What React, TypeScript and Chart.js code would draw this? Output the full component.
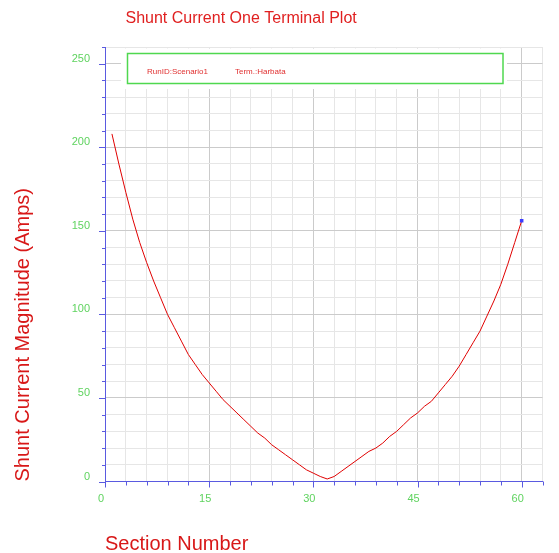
import { useEffect, useRef } from 'react';
import { Chart, registerables } from 'chart.js';

Chart.register(...registerables);

// ---- data ----
const sectionNumbers = [
  1, 2, 3, 4, 5, 6, 7, 8, 9, 10, 11, 12, 13, 14, 15, 16, 17, 18, 19, 20,
  21, 22, 23, 24, 25, 26, 27, 28, 29, 30, 31, 32, 33, 34, 35, 36, 37, 38, 39, 40,
  41, 42, 43, 44, 45, 46, 47, 48, 49, 50, 51, 52, 53, 54, 55, 56, 57, 58, 59, 60,
];
const shuntCurrentAmps = [
  208, 190, 173, 157, 143, 131, 120, 110, 100, 92, 84, 76, 70, 64, 59, 54, 49, 45, 41, 37,
  33, 29, 26, 22, 19, 16, 13, 10, 7, 5, 3, 1.5, 3, 6, 9, 12, 15, 18, 20, 23,
  27, 30, 34, 38, 41, 45, 48, 53, 58, 63, 69, 76, 83, 90, 99, 108, 118, 130, 143, 156,
];
const xLabelValues = [0, 15, 30, 45, 60];
const yLabelValues = [0, 50, 100, 150, 200, 250];
const legendTexts = ['RunID:Scenario1', 'Term.:Harbata'];
const chartTitle = 'Shunt Current One Terminal Plot';
const xAxisTitle = 'Section Number';
const yAxisTitle = 'Shunt Current Magnitude (Amps)';

const FONT = 'Arial, "Liberation Sans", sans-serif';
const AXIS_BLUE = '#5a5ae0';
const TICK_GREEN = '#5fd35f';

const decorPlugin = {
  id: 'decor',
  beforeDatasetsDraw(chart: any) {
    const { ctx } = chart;
    ctx.save();
    // white panel behind legend
    ctx.fillStyle = '#ffffff';
    ctx.fillRect(121, 48.5, 386, 40.5);
    // legend frame
    ctx.strokeStyle = '#4fd84f';
    ctx.lineWidth = 1.5;
    ctx.strokeRect(127.5, 53.5, 375.5, 30);
    ctx.fillStyle = '#e03030';
    ctx.font = `8px ${FONT}`;
    ctx.textBaseline = 'alphabetic';
    ctx.textAlign = 'left';
    ctx.fillText(legendTexts[0], 147, 73.5);
    ctx.fillText(legendTexts[1], 235, 73.5);
    ctx.restore();
  },
  afterDraw(chart: any) {
    const { ctx, chartArea } = chart;
    const xs = chart.scales.x;
    const ys = chart.scales.y;
    ctx.save();
    ctx.strokeStyle = AXIS_BLUE;
    ctx.lineWidth = 1;
    ctx.beginPath();
    xs.ticks.forEach((t: any) => {
      const px = Math.round(xs.getPixelForValue(t.value)) + 0.5;
      const len = t.value % 15 === 0 ? 6 : 4;
      ctx.moveTo(px, chartArea.bottom);
      ctx.lineTo(px, chartArea.bottom + len);
    });
    ys.ticks.forEach((t: any) => {
      const py = Math.round(ys.getPixelForValue(t.value)) + 0.5;
      const len = t.value % 50 === 0 ? 6 : 3;
      ctx.moveTo(chartArea.left, py);
      ctx.lineTo(chartArea.left - len, py);
    });
    ctx.stroke();
    // title
    ctx.fillStyle = '#e02020';
    ctx.font = `16px ${FONT}`;
    ctx.textAlign = 'left';
    ctx.textBaseline = 'alphabetic';
    ctx.fillText(chartTitle, 125.5, 22.5);
    ctx.restore();
  },
};

export default function App() {
  const canvasRef = useRef<HTMLCanvasElement | null>(null);

  useEffect(() => {
    if (!canvasRef.current) return;
    const points = sectionNumbers.map((x, i) => ({ x, y: shuntCurrentAmps[i] }));
    const lastIdx = points.length - 1;
    const chart = new Chart(canvasRef.current, {
      type: 'line',
      data: {
        datasets: [
          {
            label: 'Shunt Current',
            data: points,
            borderColor: '#e00000',
            borderWidth: 1,
            tension: 0,
            fill: false,
            pointStyle: 'rect',
            pointRadius: (c: any) => (c.dataIndex === lastIdx ? 2.5 : 0),
            pointBackgroundColor: '#3c3cff',
            pointBorderColor: '#3c3cff',
            pointBorderWidth: 0,
          },
        ],
      },
      options: {
        animation: false,
        responsive: true,
        maintainAspectRatio: false,
        layout: { padding: { left: 0, top: 47, right: 16.5, bottom: 0 } },
        plugins: {
          legend: { display: false },
          title: { display: false },
          tooltip: { enabled: false },
        },
        scales: {
          x: {
            type: 'linear',
            min: 0,
            max: 63,
            afterFit: (s: any) => {
              s.height = 71.5;
            },
            ticks: {
              stepSize: 3,
              autoSkip: false,
              maxRotation: 0,
              color: TICK_GREEN,
              font: { family: FONT, size: 11 },
              padding: 11,
              labelOffset: -4,
              callback: (v: any) => (xLabelValues.includes(Number(v)) ? String(v) : ''),
            },
            grid: {
              drawTicks: false,
              lineWidth: 1,
              color: (c: any) => (c.tick && c.tick.value % 15 === 0 ? '#cbcbcb' : '#e6e6e6'),
            },
            border: { color: AXIS_BLUE, width: 1 },
            title: {
              display: true,
              text: xAxisTitle,
              align: 'start',
              color: '#d81818',
              font: { family: FONT, size: 20, lineHeight: 1 },
              padding: { top: 0, bottom: -1 },
            },
          },
          y: {
            type: 'linear',
            min: 0,
            max: 260,
            afterFit: (s: any) => {
              s.width = 105;
            },
            ticks: {
              stepSize: 10,
              autoSkip: false,
              color: TICK_GREEN,
              font: { family: FONT, size: 11 },
              padding: 15,
              labelOffset: -5,
              callback: (v: any) => (yLabelValues.includes(Number(v)) ? String(v) : ''),
            },
            grid: {
              drawTicks: false,
              lineWidth: 1,
              color: (c: any) => (c.tick && c.tick.value % 50 === 0 ? '#cbcbcb' : '#e6e6e6'),
            },
            border: { color: AXIS_BLUE, width: 1 },
            title: {
              display: true,
              text: yAxisTitle,
              align: 'start',
              color: '#d81818',
              font: { family: FONT, size: 20, lineHeight: 1 },
              padding: { top: 13, bottom: 0 },
            },
          },
        },
      },
      plugins: [decorPlugin],
    } as any);
    return () => chart.destroy();
  }, []);

  return (
    <div style={{ position: 'fixed', left: 0, top: 0, width: 559, height: 553, background: '#ffffff' }}>
      <canvas ref={canvasRef} />
    </div>
  );
}
